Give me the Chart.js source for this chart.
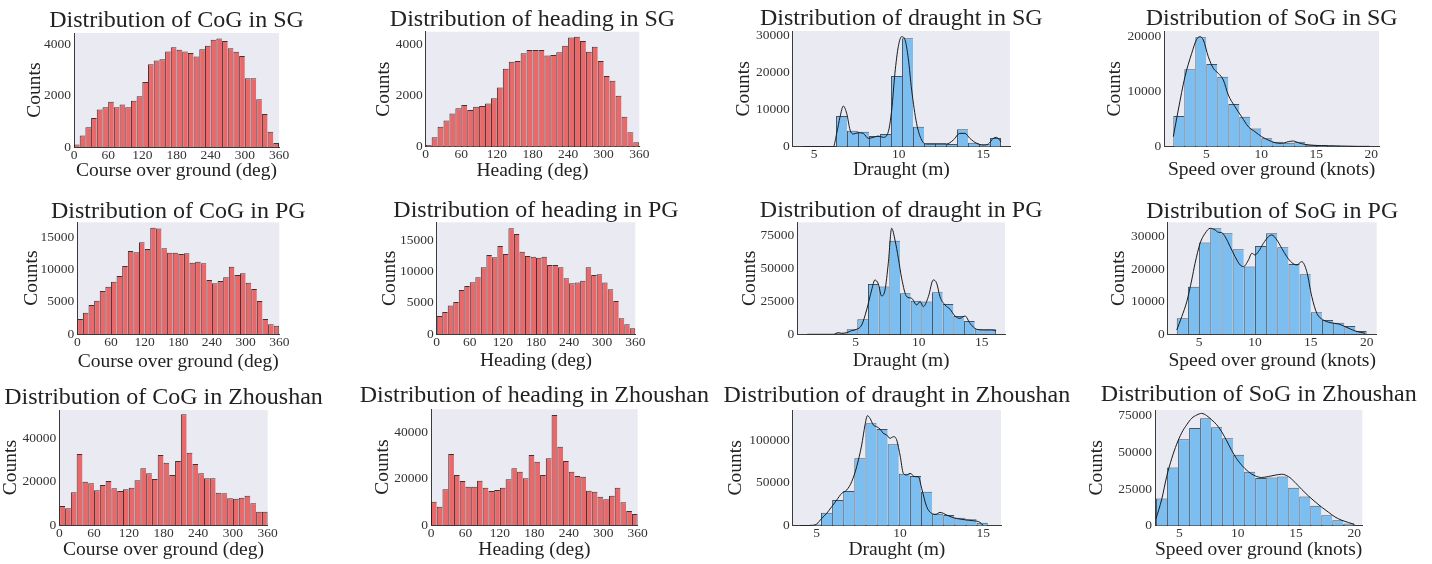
<!DOCTYPE html>
<html>
<head>
<meta charset="utf-8">
<script src="https://cdn.jsdelivr.net/npm/chart.js@4.4.1/dist/chart.umd.min.js"></script>
<style>
  html, body { margin: 0; padding: 0; background: #fff; }
  body { width: 1432px; height: 564px; position: relative; overflow: hidden; }
  canvas { position: absolute; }
</style>
</head>
<body>
<script>
// ---- tick labels ----
const angleTicks = [0, 60, 120, 180, 240, 300, 360];
const draughtTicks = [5, 10, 15];
const speedTicks = [5, 10, 15, 20];

// ---- course over ground / heading: 36 bins of 10 deg ----
const cogSG = [100, 450, 770, 1130, 1460, 1540, 1760, 1540, 1650, 1540, 1800, 1970, 2530, 3220, 3360, 3410, 3710, 3880,
  3780, 3710, 3650, 3520, 3800, 3930, 4170, 4220, 4120, 3840, 3700, 3540, 2670, 2670, 1860, 1280, 590, 160];
const headingSG = [65, 365, 780, 1020, 1300, 1500, 1630, 1430, 1560, 1590, 1690, 1890, 2310, 3050, 3320, 3350, 3650, 3780,
  3780, 3780, 3560, 3580, 3690, 3950, 4270, 4300, 4130, 3710, 3910, 3350, 2760, 2580, 1990, 1170, 560, 170];
const cogPG = [2330, 3310, 4500, 5170, 6670, 7340, 8120, 9000, 10550, 12870, 12670, 14220, 13180, 16490, 16340, 13290, 12610, 12610,
  12410, 12510, 11060, 11220, 10960, 8380, 7860, 8220, 8790, 10440, 9150, 9410, 7960, 6980, 5120, 2330, 1500, 1290];
const headingPG = [2920, 3550, 4560, 5140, 7050, 7690, 8270, 9060, 10650, 12610, 12240, 14040, 12770, 16850, 15950, 13140, 12450, 12350,
  12190, 12350, 11020, 11020, 10650, 8900, 8110, 8220, 8530, 10650, 9430, 9540, 8220, 7160, 5300, 2540, 1590, 950];
const cogZh = [8770, 7690, 15070, 32760, 19990, 19230, 16000, 18460, 20300, 16920, 15690, 16460, 17230, 20610, 26150, 23840, 21220, 32300,
  28760, 23070, 29530, 51060, 33380, 28150, 23840, 21530, 21530, 14920, 14610, 12300, 12150, 12610, 13530, 10000, 6150, 6150];
const headingZh = [10070, 7910, 15400, 30650, 21590, 18990, 16550, 16550, 19140, 16120, 14680, 15110, 16120, 19710, 24460, 23020, 20150, 30220,
  27340, 21590, 28780, 47490, 33820, 27630, 23020, 21150, 20870, 14820, 14390, 12230, 11080, 12660, 16120, 9790, 6040, 4750];

// ---- draught (m) ----
const draughtSG = [8240, 4300, 4030, 2870, 3400, 18990, 29100, 5370, 900, 900, 720, 4660, 1070, 630, 2330];
const draughtSGKdeX = [4.37, 6.14, 6.34, 6.54, 6.73, 6.93, 7.13, 7.32, 7.62, 7.91, 8.21, 8.50, 8.80, 9.09, 9.39, 9.59, 9.78, 9.98, 10.18,
  10.37, 10.57, 10.77, 11.06, 11.36, 11.65, 12.24, 12.83, 13.23, 13.62, 13.92, 14.21, 14.61, 15.0, 15.30, 15.59, 15.79, 16.04];
const draughtSGKdeY = [0, 0, 3600, 8060, 10900, 8950, 4480, 3400, 3760, 3580, 2240, 2500, 2870, 2500, 4030, 9850, 19700, 26900, 29550,
  28800, 23700, 15200, 6270, 1790, 720, 720, 720, 1790, 3580, 3580, 2240, 900, 450, 720, 2240, 2500, 1340];

const draughtPG = [100, 800, 3800, 11300, 38000, 36000, 70700, 31000, 25400, 24700, 31700, 22900, 13800, 10100, 3800, 3800];
const draughtPGKdeX = [1.16, 3.23, 3.62, 3.89, 4.29, 4.68, 5.08, 5.48, 5.87, 6.27, 6.53, 6.80, 7.06, 7.33, 7.59, 7.86, 8.12, 8.39, 8.65,
  9.05, 9.44, 9.84, 10.11, 10.37, 10.77, 11.16, 11.43, 11.69, 12.09, 12.49, 12.88, 13.28, 13.68, 14.07, 14.60, 15.13, 15.79, 16.14];
const draughtPGKdeY = [0, 0, 1260, 760, 1260, 2770, 3780, 7050, 18370, 33480, 41030, 38000, 28950, 33480, 53610, 80040, 71230, 57390, 42290,
  28440, 27180, 22150, 24670, 20890, 28440, 41030, 38510, 28440, 22150, 18880, 13840, 12080, 13840, 8310, 3780, 3270, 3270, 2770];

const draughtZh = [1500, 15170, 29950, 40460, 78580, 119420, 112810, 94920, 60680, 57960, 39680, 14000, 12450, 9340, 7390, 3500];
const draughtZhKdeX = [4.0, 4.6, 5.0, 5.3, 5.6, 5.9, 6.2, 6.5, 6.8, 7.1, 7.4, 7.7, 7.9, 8.04, 8.2, 8.4, 8.6, 8.8, 9.0, 9.2, 9.4,
  9.6, 9.76, 10.0, 10.2, 10.4, 10.6, 10.9, 11.1, 11.3, 11.6, 11.9, 12.16, 12.4, 12.8, 13.2, 13.6, 14.0, 14.4, 14.8, 15.0];
const draughtZhKdeY = [0, 0, 1950, 8560, 14390, 22170, 29950, 37730, 41620, 51350, 68850, 94140, 117480, 128370, 125260, 117480, 115530,
  112810, 107750, 105810, 101920, 103860, 101920, 82470, 61070, 59130, 61070, 57180, 57180, 43570, 22170, 14390, 13230, 15560, 12450,
  9340, 7780, 6610, 5840, 3890, 0];

// ---- speed over ground (knots) ----
const sogSG = [5580, 14060, 19880, 15030, 12730, 7760, 5450, 3330, 1520, 910, 730, 910, 360, 300, 180, 120, 60, 60];
const sogSGKdeX = [2.0, 2.45, 3.06, 3.67, 4.12, 4.42, 4.73, 5.18, 5.64, 6.09, 6.55, 7.0, 7.61, 8.21, 8.82, 9.42, 10.03, 10.64, 11.24,
  11.85, 12.45, 12.91, 13.36, 13.97, 14.88, 16.09, 17.3, 18.8, 19.85];
const sogSGKdeY = [1820, 6670, 12730, 16970, 19510, 20000, 19390, 16360, 14240, 13330, 12120, 9390, 7270, 5450, 3640, 2730, 1820, 1210, 730,
  610, 910, 1030, 730, 420, 240, 180, 120, 60, 60];

const sogPG = [4920, 14640, 28160, 32560, 31030, 26110, 20790, 27140, 31030, 26730, 21610, 18430, 6760, 4400, 3580, 2560, 1020];
const sogPGKdeX = [3.0, 3.45, 3.9, 4.34, 4.64, 5.09, 5.54, 5.99, 6.43, 6.73, 7.03, 7.33, 7.78, 8.22, 8.67, 8.97, 9.42, 9.72, 10.01, 10.31,
  10.76, 11.21, 11.51, 11.96, 12.40, 12.85, 13.30, 13.75, 14.19, 14.64, 15.09, 15.54, 16.13, 16.73, 17.48, 18.07, 18.97, 19.87];
const sogPGKdeY = [1330, 5430, 10040, 16690, 21810, 27960, 31030, 32560, 32050, 31330, 31230, 30000, 26930, 23860, 21300, 20790, 22830,
  24880, 24370, 25390, 27960, 30000, 30510, 28980, 26420, 23860, 22020, 21300, 22320, 19250, 11570, 6450, 4400, 3580, 3170, 2360, 1020, 310];

const sogZh = [18560, 39780, 59010, 66740, 73370, 67180, 59670, 48400, 36910, 32490, 32930, 33590, 25860, 19890, 13700, 7070, 3760, 1550];
const sogZhKdeX = [3.0, 3.49, 3.91, 4.34, 4.77, 5.2, 5.63, 6.06, 6.49, 6.91, 7.34, 7.77, 8.2, 8.63, 9.06, 9.49, 9.91, 10.34, 10.91, 11.49,
  12.06, 12.63, 13.2, 13.77, 14.34, 14.91, 15.49, 16.06, 16.63, 17.2, 17.77, 18.34, 18.91, 19.49, 20.0];
const sogZhKdeY = [4860, 18120, 33590, 45750, 55690, 63430, 68950, 73370, 75580, 76690, 75140, 72270, 68950, 64090, 57900, 51270, 45750,
  41330, 36910, 34030, 32930, 33590, 34480, 35140, 33590, 29610, 24750, 20330, 16350, 12600, 9280, 5970, 3760, 2210, 880];

// ---- styles ----
const FONT = "'Liberation Serif', 'Times New Roman', serif";
const STYLE = {
  red: { fill: '#E9686A', edge: 'rgba(45,30,30,0.9)' },
  blue: { fill: '#7DBEF0', edge: 'rgba(40,55,70,0.85)' }
};

// ---- panel layout (plot = [left, top, right, bottom] in page px) ----
const PANELS = [
  { title: 'Distribution of CoG in SG', xLabel: 'Course over ground (deg)', style: 'red', counts: cogSG, binStart: 0, binWidth: 10,
    xRange: [0, 360], xTicks: angleTicks, yMax: 4430, yTicks: [0, 2000, 4000],
    plot: [74, 33, 279, 147], titleY: 21, yLabelX: 35, xLabelY: 170.5 },
  { title: 'Distribution of heading in SG', xLabel: 'Heading (deg)', style: 'red', counts: headingSG, binStart: 0, binWidth: 10,
    xRange: [0, 360], xTicks: angleTicks, yMax: 4495, yTicks: [0, 2000, 4000],
    plot: [425.7, 31.7, 639.3, 146.7], titleY: 19.5, yLabelX: 383.7, xLabelY: 170.5 },
  { title: 'Distribution of draught in SG', xLabel: 'Draught (m)', style: 'blue', counts: draughtSG, binStart: 6.3, binWidth: 0.65,
    kdeX: draughtSGKdeX, kdeY: draughtSGKdeY,
    xRange: [3.74, 16.58], xTicks: draughtTicks, yMax: 31070, yTicks: [0, 10000, 20000, 30000],
    plot: [792.7, 31, 1010, 146.7], titleY: 19, yLabelX: 744, xLabelY: 170 },
  { title: 'Distribution of SoG in SG', xLabel: 'Speed over ground (knots)', style: 'blue', counts: sogSG, binStart: 2, binWidth: 1,
    kdeX: sogSGKdeX, kdeY: sogSGKdeY,
    xRange: [1.18, 20.7], xTicks: speedTicks, yMax: 21030, yTicks: [0, 10000, 20000],
    plot: [1164.3, 31, 1379, 146.7], titleY: 19, yLabelX: 1114.7, xLabelY: 170 },

  { title: 'Distribution of CoG in PG', xLabel: 'Course over ground (deg)', style: 'red', counts: cogPG, binStart: 0, binWidth: 10,
    xRange: [0, 360], xTicks: angleTicks, yMax: 17320, yTicks: [0, 5000, 10000, 15000],
    plot: [77.3, 222.3, 279.3, 334], titleY: 212, yLabelX: 31.7, xLabelY: 362 },
  { title: 'Distribution of heading in PG', xLabel: 'Heading (deg)', style: 'red', counts: headingPG, binStart: 0, binWidth: 10,
    xRange: [0, 360], xTicks: angleTicks, yMax: 17810, yTicks: [0, 5000, 10000, 15000],
    plot: [436.7, 222.3, 635.3, 334.3], titleY: 211, yLabelX: 389.7, xLabelY: 360.5 },
  { title: 'Distribution of draught in PG', xLabel: 'Draught (m)', style: 'blue', counts: draughtPG, binStart: 2.59, binWidth: 0.847,
    kdeX: draughtPGKdeX, kdeY: draughtPGKdeY,
    xRange: [0.37, 16.85], xTicks: draughtTicks, yMax: 84570, yTicks: [0, 25000, 50000, 75000],
    plot: [797.3, 222.3, 1005, 334.3], titleY: 211, yLabelX: 749.7, xLabelY: 360.5 },
  { title: 'Distribution of SoG in PG', xLabel: 'Speed over ground (knots)', style: 'blue', counts: sogPG, binStart: 3, binWidth: 1,
    kdeX: sogPGKdeX, kdeY: sogPGKdeY,
    xRange: [2.19, 20.9], xTicks: speedTicks, yMax: 34400, yTicks: [0, 10000, 20000, 30000],
    plot: [1167.7, 222.3, 1376.7, 334.3], titleY: 211.7, yLabelX: 1118.7, xLabelY: 360.5 },

  { title: 'Distribution of CoG in Zhoushan', xLabel: 'Course over ground (deg)', style: 'red', counts: cogZh, binStart: 0, binWidth: 10,
    xRange: [0, 360], xTicks: angleTicks, yMax: 53060, yTicks: [0, 20000, 40000],
    plot: [59.3, 410, 267.7, 525], titleY: 397.5, yLabelX: 11, xLabelY: 550 },
  { title: 'Distribution of heading in Zhoushan', xLabel: 'Heading (deg)', style: 'red', counts: headingZh, binStart: 0, binWidth: 10,
    xRange: [0, 360], xTicks: angleTicks, yMax: 49930, yTicks: [0, 20000, 40000],
    plot: [431, 409.3, 637.7, 525], titleY: 395.8, yLabelX: 382.5, xLabelY: 550 },
  { title: 'Distribution of draught in Zhoushan', xLabel: 'Draught (m)', style: 'blue', counts: draughtZh, binStart: 4.59, binWidth: 0.667,
    kdeX: draughtZhKdeX, kdeY: draughtZhKdeY,
    xRange: [3.56, 16.06], xTicks: draughtTicks, yMax: 135000, yTicks: [0, 50000, 100000],
    plot: [792.7, 410, 1001, 525.7], titleY: 395.8, yLabelX: 735.5, xLabelY: 550 },
  { title: 'Distribution of SoG in Zhoushan', xLabel: 'Speed over ground (knots)', style: 'blue', counts: sogZh, binStart: 3, binWidth: 17 / 18,
    kdeX: sogZhKdeX, kdeY: sogZhKdeY,
    xRange: [2.91, 20.68], xTicks: speedTicks, yMax: 79000, yTicks: [0, 25000, 50000, 75000],
    plot: [1155, 410, 1362.3, 525.7], titleY: 395, yLabelX: 1097, xLabelY: 550 }
];

const TITLE_SIZE = 24;
const LABEL_SIZE = 19.5;
const TICK_SIZE = 13.5;

// fills the axes area with the seaborn-like lavender background
const plotBackground = {
  id: 'plotBackground',
  beforeDraw(chart) {
    const { ctx, chartArea: a } = chart;
    ctx.save();
    ctx.fillStyle = '#EAEAF2';
    ctx.fillRect(a.left, a.top, a.right - a.left, a.bottom - a.top);
    ctx.restore();
  }
};

// panel title centred over the axes, allowed to run wider than the plot
// (the built-in title squeezes long text to the box width)
const panelTitle = {
  id: 'panelTitle',
  afterDraw(chart, args, opts) {
    const { ctx, chartArea: a } = chart;
    ctx.save();
    ctx.font = `${TITLE_SIZE}px ${FONT}`;
    ctx.fillStyle = '#222';
    ctx.textAlign = 'center';
    ctx.textBaseline = 'middle';
    ctx.fillText(opts.text, (a.left + a.right) / 2, opts.y);
    ctx.restore();
  }
};

function buildPanel(p) {
  const [L, T, R, B] = p.plot;
  const left = Math.round(L) - 110;
  const right = Math.round(R) + 90;
  const top = Math.round(p.titleY - 16);
  const bottom = Math.round(p.xLabelY + LABEL_SIZE / 2);
  const w = right - left, h = bottom - top;
  const axisLeft = p.yLabelX - LABEL_SIZE / 2;

  const canvas = document.createElement('canvas');
  canvas.width = w;
  canvas.height = h;
  canvas.style.left = left + 'px';
  canvas.style.top = top + 'px';
  canvas.style.width = w + 'px';
  canvas.style.height = h + 'px';
  document.body.appendChild(canvas);

  const style = STYLE[p.style];
  const n = p.counts.length;

  const datasets = [{
    type: 'bar',
    data: p.counts.map((v, i) => ({ x: p.binStart + (i + 0.5) * p.binWidth, y: v })),
    backgroundColor: style.fill,
    borderColor: style.edge,
    borderWidth: ctx => ({ top: 1, left: 1, bottom: 0, right: ctx.dataIndex === n - 1 ? 1 : 0 }),
    borderSkipped: false,
    barPercentage: 1,
    categoryPercentage: 1,
    inflateAmount: 0,
    order: 1
  }];
  if (p.kdeX) {
    datasets.push({
      type: 'line',
      data: p.kdeX.map((x, i) => ({ x, y: p.kdeY[i] })),
      borderColor: '#1b1b1b',
      borderWidth: 1,
      pointRadius: 0,
      cubicInterpolationMode: 'monotone',
      order: 0
    });
  }

  new Chart(canvas, {
    type: 'bar',
    data: { datasets },
    plugins: [plotBackground, panelTitle],
    options: {
      responsive: false,
      animation: false,
      devicePixelRatio: 1,
      layout: { padding: { left: axisLeft - left, top: T - top, bottom: 0, right: right - R } },
      plugins: {
        legend: { display: false },
        tooltip: { enabled: false },
        title: { display: false },
        panelTitle: { text: p.title, y: p.titleY - top }
      },
      scales: {
        x: {
          type: 'linear',
          min: p.xRange[0],
          max: p.xRange[1],
          bounds: 'data',
          offset: false,
          grid: { display: false, drawTicks: false },
          border: { display: true, color: '#3a3a3a', width: 1 },
          ticks: {
            color: '#333',
            font: { family: FONT, size: TICK_SIZE },
            padding: 0,
            autoSkip: false,
            maxRotation: 0,
            callback: v => String(v)
          },
          afterBuildTicks: s => { s.ticks = p.xTicks.map(v => ({ value: v })); },
          title: {
            display: true,
            text: p.xLabel,
            color: '#222',
            font: { family: FONT, size: LABEL_SIZE, lineHeight: 1 },
            padding: { top: 0, bottom: bottom - p.xLabelY - LABEL_SIZE / 2 }
          },
          afterFit: s => { s.height = bottom - B; }
        },
        y: {
          type: 'linear',
          min: 0,
          max: p.yMax,
          bounds: 'data',
          grid: { display: false, drawTicks: false },
          border: { display: true, color: '#3a3a3a', width: 1 },
          ticks: {
            color: '#333',
            font: { family: FONT, size: TICK_SIZE },
            padding: 3,
            callback: v => String(v)
          },
          afterBuildTicks: s => { s.ticks = p.yTicks.map(v => ({ value: v })); },
          title: {
            display: true,
            text: 'Counts',
            color: '#222',
            font: { family: FONT, size: LABEL_SIZE, lineHeight: 1 },
            padding: { top: 0, bottom: 0 }
          },
          afterFit: s => { s.width = L - axisLeft; }
        }
      }
    }
  });
}

PANELS.forEach(buildPanel);
</script>
</body>
</html>
